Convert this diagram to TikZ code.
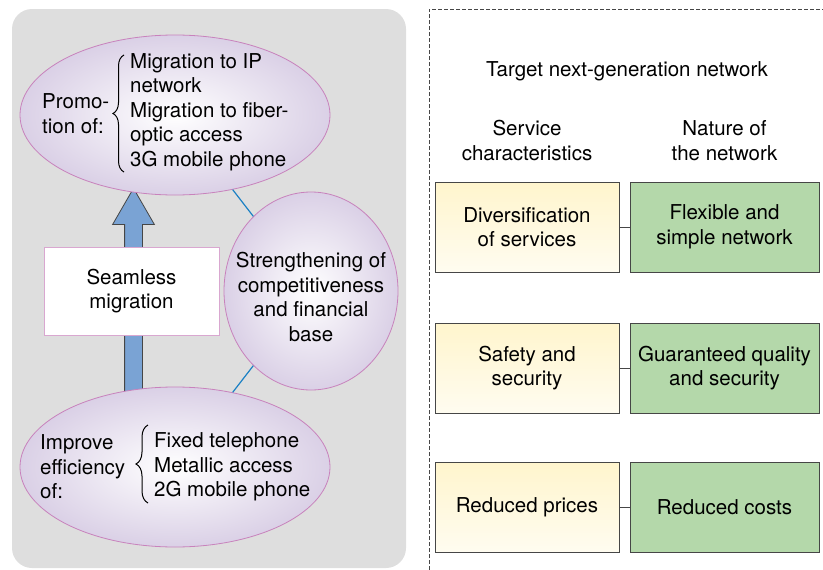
\documentclass[tikz,border=0pt]{standalone}
\usepackage{fontspec}
\setmainfont{TeX Gyre Heros}
\usetikzlibrary{shapes.geometric,shapes.arrows,decorations.pathreplacing}
\definecolor{bggray}{RGB}{222,222,222}
\definecolor{bubbleedge}{RGB}{200,130,188}
\definecolor{bubblefill}{RGB}{218,208,230}
\definecolor{liftblue}{RGB}{122,163,212}
\definecolor{linkblue}{RGB}{26,128,196}
\definecolor{svcyellow}{RGB}{255,245,205}
\definecolor{netgreen}{RGB}{180,216,170}
\definecolor{boxedge}{RGB}{70,70,70}

\begin{document}
\begin{tikzpicture}[x=1pt,y=-1pt,font=\fontsize{20.5}{24.5}\selectfont]
\tikzstyle{bubble}=[draw=bubbleedge,ellipse,line width=0.8pt,inner sep=0pt,shading=radial,inner color=white,outer color=bubblefill]
\tikzstyle{txt}=[inner sep=0pt,align=left]
\tikzstyle{ctxt}=[inner sep=0pt,align=center]
\tikzstyle{svc}=[draw=boxedge,line width=0.8pt,minimum width=184pt,minimum height=90pt,align=center,top color=svcyellow,bottom color=svcyellow!30]
\tikzstyle{net}=[draw=boxedge,line width=0.8pt,minimum width=189pt,minimum height=90pt,align=center,fill=netgreen]
\tikzstyle{link}=[linkblue,line width=1.2pt]
\tikzstyle{pair}=[boxedge,line width=0.8pt]
\useasboundingbox (0,0) rectangle (823,570);
% left panel
\fill[bggray,rounded corners=20pt] (12,9) rectangle (406,568);
\node [single arrow,draw=boxedge,fill=liftblue,line width=0.8pt,rotate=90,inner sep=8.5pt,
  single arrow head extend=12pt,single arrow tip angle=60,minimum height=204pt] (lift) at (133.5,298) {};
\node [bubble,minimum width=310pt,minimum height=160pt] (promo) at (175,115) {};
\node [bubble,minimum width=310pt,minimum height=160pt] (improve) at (175,467) {};
\node [bubble,minimum width=174pt,minimum height=198pt] (strength) at (311,291) {};
\node [draw=bubbleedge!70,fill=white,line width=0.8pt,minimum width=175pt,minimum height=88pt,align=center] (seamless) at (131.5,291) {Seamless\\migration};
\draw [link] (promo) -- (strength);
\draw [link] (improve) -- (strength);
\node [txt,anchor=west] (promolbl) at (42,113.5) {Promo-\\tion of:};
\node [txt,anchor=west] (promolist) at (130,112) {Migration to IP\\network\\Migration to fiber-\\optic access\\3G mobile phone};
\draw [decorate,decoration={brace,amplitude=11pt},line width=1pt] (124,172) -- (124,55);
\node [txt,anchor=west] (improvelbl) at (40,467) {Improve\\efficiency\\of:};
\node [txt,anchor=west] (improvelist) at (154,467) {Fixed telephone\\Metallic access\\2G mobile phone};
\draw [decorate,decoration={brace,amplitude=12pt},line width=1pt] (148,503) -- (148,425);
\node [ctxt] (strengthlbl) at (311,297) {Strengthening of\\competitiveness\\and financial\\base};
% right panel
\draw [boxedge,line width=0.8pt,dash pattern=on 4pt off 2pt] (429,570) -- (429,9) -- (823,9);
\node [ctxt] (target) at (627,71) {Target next-generation network};
\node [ctxt] (svchead) at (527,140.5) {Service\\characteristics};
\node [ctxt] (nethead) at (724.5,140.5) {Nature of\\the network};
\node [svc] (diverse) at (527,227) {Diversification\\of services};
\node [svc] (safety) at (527,368) {Safety and\\security};
\node [svc] (prices) at (527,507) {Reduced prices};
\node [net] (flexible) at (724.5,227) {Flexible and\\simple network};
\node [net] (quality) at (724.5,368) {Guaranteed quality\\and security};
\node [net] (costs) at (724.5,507) {Reduced costs};
\draw [pair] (diverse) -- (flexible);
\draw [pair] (safety) -- (quality);
\draw [pair] (prices) -- (costs);
\end{tikzpicture}
\end{document}
